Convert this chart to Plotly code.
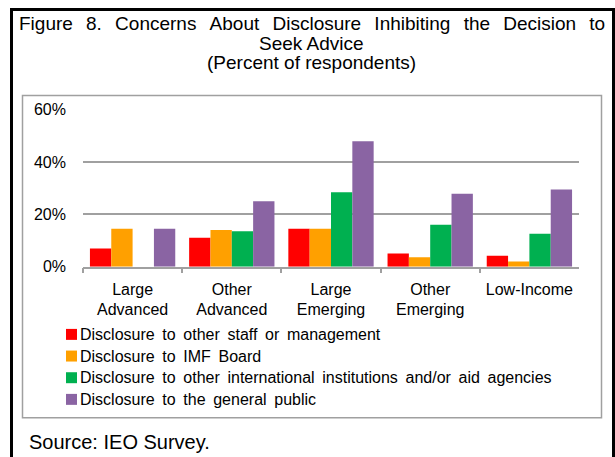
import plotly.graph_objects as go

W, H = 615, 457

categories = ["Large<br>Advanced", "Other<br>Advanced", "Large<br>Emerging", "Other<br>Emerging", "Low-Income"]
series_names = [
    "Disclosure to other staff or management",
    "Disclosure to IMF Board",
    "Disclosure to other international institutions and/or aid agencies",
    "Disclosure to the general public",
]
staff = [0.070, 0.111, 0.145, 0.050, 0.042]
board = [0.145, 0.140, 0.145, 0.036, 0.020]
intl = [0.0, 0.135, 0.284, 0.160, 0.126]
public = [0.145, 0.250, 0.479, 0.279, 0.295]
series_values = [staff, board, intl, public]
colors = ["#FF0000", "#FFA000", "#00B050", "#8A64A3"]
y_ticks = [0.0, 0.2, 0.4, 0.6]

title_lines = [
    "Figure 8. Concerns About Disclosure Inhibiting the Decision to",
    "Seek Advice",
    "(Percent of respondents)",
]
source_text = "Source: IEO Survey."


def px(x):
    return x / W


def py(y):
    return 1 - y / H


def widen(txt, extra):
    # mimic the wider word spacing of the original (justified) text
    return txt.replace(" ", " " + extra)


FONT = "Liberation Sans, Arial, sans-serif"

fig = go.Figure()
for name, vals, col in zip(series_names, series_values, colors):
    fig.add_trace(go.Bar(x=categories, y=vals, name=name, showlegend=False,
                         marker=dict(color=col, line=dict(width=0))))

annotations = []
title_y = [16.5, 37, 56.5]
for i, (txt, yy) in enumerate(zip(title_lines, title_y)):
    t = widen(txt, "\u2004\u200A") if i == 0 else txt
    annotations.append(dict(text=t, x=px(311.5), y=py(yy), xref="paper", yref="paper",
                            xanchor="center", yanchor="middle", showarrow=False,
                            font=dict(family=FONT, size=19, color="#000000")))
annotations.append(dict(text=source_text, x=px(27), y=py(451), xref="paper", yref="paper",
                        xanchor="left", yanchor="middle", showarrow=False,
                        font=dict(family=FONT, size=20, color="#000000")))

shapes = [
    dict(type="rect", xref="paper", yref="paper", x0=px(11.5), x1=px(613.5), y0=py(1.5), y1=py(475),
         line=dict(color="#000000", width=3), fillcolor="rgba(0,0,0,0)", layer="above"),
    dict(type="rect", xref="paper", yref="paper", x0=px(22.5), x1=px(601.5), y0=py(91), y1=py(425.5),
         line=dict(color="#A0A0A0", width=1.5), fillcolor="rgba(0,0,0,0)", layer="below"),
]

# legend drawn as layout swatches + labels, built from the series lists
leg_top, leg_step = 339.0, 22.5
for i, (name, col) in enumerate(zip(series_names, colors)):
    cy = leg_top + i * leg_step
    shapes.append(dict(type="rect", xref="paper", yref="paper", x0=px(66), x1=px(77),
                       y0=py(cy + 5.7), y1=py(cy - 5.7), line=dict(width=0), fillcolor=col))
    annotations.append(dict(text=widen(name, "\u2009"), x=px(78), y=py(cy), xref="paper", yref="paper",
                            xanchor="left", yanchor="middle", showarrow=False,
                            font=dict(family=FONT, size=16, color="#000000")))

fig.update_layout(
    width=W, height=H,
    margin=dict(l=0, r=0, t=0, b=0),
    paper_bgcolor="#FFFFFF", plot_bgcolor="#FFFFFF",
    barmode="group", bargap=0.14, bargroupgap=0.0,
    showlegend=False,
    font=dict(family=FONT, size=16, color="#000000"),
    xaxis=dict(domain=[px(83), px(579)], type="category",
               showline=True, linecolor="#A0A0A0", linewidth=1.5,
               ticks="outside", tickson="boundaries", ticklen=5, tickcolor="#A0A0A0", tickwidth=1.5,
               ticklabelstandoff=7,
               showgrid=False, tickfont=dict(family=FONT, size=16, color="#000000")),
    yaxis=dict(domain=[py(268.7), py(105.5)], range=[0, 0.6], tickvals=y_ticks, tickformat=".0%",
               showgrid=True, gridcolor="#A0A0A0", gridwidth=1.5, zeroline=False,
               showline=False, ticks="", ticklabelstandoff=16,
               tickfont=dict(family=FONT, size=16, color="#000000")),
    annotations=annotations,
    shapes=shapes,
)

fig.write_html("out.html")
